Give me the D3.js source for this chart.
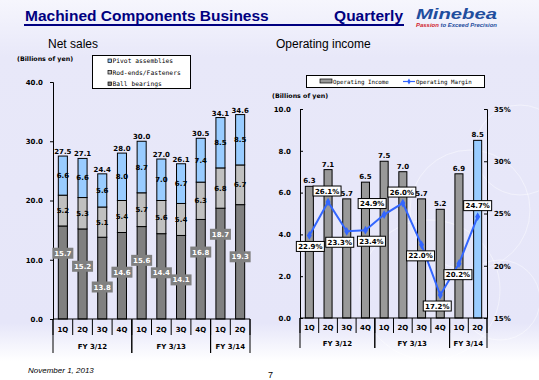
<!DOCTYPE html>
<html>
<head>
<meta charset="utf-8">
<script src="https://cdn.jsdelivr.net/npm/d3@7"></script>
<style>
body { margin: 0; }
svg { display: block; }
</style>
</head>
<body>
<svg></svg>
<script>
// quarter labels and fiscal year groups
var quarters = ["1Q", "2Q", "3Q", "4Q", "1Q", "2Q", "3Q", "4Q", "1Q", "2Q"];
var fiscalYears = ["FY 3/12", "FY 3/13", "FY 3/14"];
var fyQuarters = [4, 4, 2];
// net sales by product (billions of yen)
var ballBearings = [15.7, 15.2, 13.8, 14.6, 15.6, 14.4, 14.1, 16.8, 18.7, 19.3];
var rodEnds = [5.2, 5.3, 5.1, 5.4, 5.7, 5.6, 5.4, 6.3, 6.8, 6.7];
var pivots = [6.6, 6.6, 5.6, 8.0, 8.7, 7.0, 6.7, 7.4, 8.5, 8.5];
var netTotal = [27.5, 27.1, 24.4, 28.0, 30.0, 27.0, 26.1, 30.5, 34.1, 34.6];
// operating income and margin
var opIncome = [6.3, 7.1, 5.7, 6.5, 7.5, 7.0, 5.7, 5.2, 6.9, 8.5];
var opMargin = [22.9, 26.1, 23.3, 23.4, 24.9, 26.0, 22.0, 17.2, 20.2, 24.7];
// tick values
var salesTicks = [0, 10, 20, 30, 40];
var incomeTicks = [0, 2, 4, 6, 8, 10];
var marginTicks = [15, 20, 25, 30, 35];

// label placement (where the labels were dragged to in the original)
var bbLabelAt = [11.1, 8.9, 5.4, 7.9, 9.9, 7.8, 6.6, 11.3, 14.3, 10.5];
var marginLabelSide = [1, -1, 1, 1, -1, -1, 1, 1, 1, -1];
var marginLabelDx = [1, -1, -7, 6, -12, -1, -1, -3, -1, 0];

var width = 539, height = 380;
var svg = d3.select("svg").attr("width", width).attr("height", height);

// background
var defs = svg.append("defs");
var grad = defs.append("linearGradient").attr("id", "bg").attr("x1", 0).attr("y1", 0).attr("x2", 0).attr("y2", 1);
grad.append("stop").attr("offset", "0%").attr("stop-color", "#f6f6fd");
grad.append("stop").attr("offset", "15%").attr("stop-color", "#e8e8f9");
grad.append("stop").attr("offset", "85%").attr("stop-color", "#e6e6f9");
grad.append("stop").attr("offset", "95%").attr("stop-color", "#ffffff");
grad.append("stop").attr("offset", "100%").attr("stop-color", "#ffffff");
svg.append("rect").attr("width", width).attr("height", height).attr("fill", "url(#bg)");
// faint swirl circles on the right
[[470, 210, 60], [520, 150, 45], [430, 290, 70], [500, 300, 40]].forEach(function (c) {
  svg.append("circle").attr("cx", c[0]).attr("cy", c[1]).attr("r", c[2])
    .attr("fill", "none").attr("stroke", "#ffffff").attr("stroke-opacity", 0.45).attr("stroke-width", 1);
});

// header
svg.append("text").attr("x", 25).attr("y", 21)
  .attr("font-family", "Liberation Sans, Arial").attr("font-weight", "bold").attr("font-size", 15.5)
  .attr("fill", "#000080").text("Machined Components Business");
svg.append("text").attr("x", 403).attr("y", 21).attr("text-anchor", "end")
  .attr("font-family", "Liberation Sans, Arial").attr("font-weight", "bold").attr("font-size", 15.5)
  .attr("fill", "#000080").text("Quarterly");
svg.append("rect").attr("x", 24).attr("y", 24).attr("width", 380).attr("height", 2).attr("fill", "#000080");
svg.append("text").attr("x", 416).attr("y", 19)
  .attr("font-family", "Liberation Sans, Arial").attr("font-weight", "bold").attr("font-style", "italic")
  .attr("font-size", 14).attr("fill", "#1f4e9e")
  .attr("textLength", 81).attr("lengthAdjust", "spacingAndGlyphs").text("Minebea");
var tag = svg.append("text").attr("x", 416).attr("y", 27)
  .attr("font-family", "Liberation Sans, Arial").attr("font-weight", "bold").attr("font-style", "italic")
  .attr("font-size", 5.5).attr("textLength", 81).attr("lengthAdjust", "spacingAndGlyphs");
tag.append("tspan").attr("fill", "#d0202a").text("Passion");
tag.append("tspan").attr("fill", "#1f4e9e").text(" to Exceed Precision");

// footer
svg.append("text").attr("x", 28).attr("y", 373)
  .attr("font-family", "Liberation Sans, Arial").attr("font-style", "italic").attr("font-size", 8)
  .text("November 1, 2013");
svg.append("text").attr("x", 268).attr("y", 378)
  .attr("font-family", "Liberation Sans, Arial").attr("font-size", 9).text("7");

var tickFont = "DejaVu Sans, Verdana";
var fs = 7;

// draws the two-level category axis under a chart
function categoryAxis(g, x, y0, qY, fyY, lineEnd, qLineEnd) {
  var step = x.step();
  var left = x.range()[0];
  g.append("line").attr("x1", left).attr("x2", x.range()[1]).attr("y1", y0).attr("y2", y0)
    .attr("stroke", "#000");
  // separators between quarters
  for (var i = 0; i <= quarters.length; i++) {
    g.append("line").attr("x1", left + i * step).attr("x2", left + i * step)
      .attr("y1", y0).attr("y2", qLineEnd).attr("stroke", "#000");
  }
  g.selectAll(".q").data(quarters).enter().append("text")
    .attr("x", (d, i) => x(i) + x.bandwidth() / 2).attr("y", qY)
    .attr("text-anchor", "middle").attr("font-family", tickFont).attr("font-weight", "bold")
    .attr("font-size", fs).text(d => d);
  var start = 0;
  fiscalYears.forEach(function (fy, k) {
    var x0 = left + start * step;
    var x1 = left + (start + fyQuarters[k]) * step;
    g.append("line").attr("x1", x0).attr("x2", x0).attr("y1", y0).attr("y2", lineEnd).attr("stroke", "#000");
    g.append("line").attr("x1", x1).attr("x2", x1).attr("y1", y0).attr("y2", lineEnd).attr("stroke", "#000");
    g.append("text").attr("x", (x0 + x1) / 2).attr("y", fyY).attr("text-anchor", "middle")
      .attr("font-family", tickFont).attr("font-weight", "bold").attr("font-size", fs).text(fy);
    start += fyQuarters[k];
  });
}

// ---------------- Net sales ----------------
var left = svg.append("g");
left.append("text").attr("x", 48).attr("y", 48)
  .attr("font-family", "Liberation Sans, Arial").attr("font-size", 12).text("Net sales");
left.append("text").attr("x", 17).attr("y", 61)
  .attr("font-family", tickFont).attr("font-weight", "bold").attr("font-size", 6.3).text("(Billions of yen)");

var xS = d3.scaleBand().domain(d3.range(quarters.length)).range([53, 250]).paddingInner(0.54).paddingOuter(0.27);
var yS = d3.scaleLinear().domain([0, 40]).range([319, 82]);

var colS = { bb: "#808080", rod: "#c0c0c0", piv: "#99ccff" };

left.append("g").attr("transform", "translate(53,0)")
  .call(d3.axisLeft(yS).tickValues(salesTicks).tickFormat(d3.format(".1f")).tickSize(3).tickPadding(7))
  .call(g => g.select(".domain").attr("stroke", "#000"))
  .call(g => g.selectAll("text").attr("font-family", tickFont).attr("font-weight", "bold").attr("font-size", fs));

var stacks = quarters.map(function (q, i) {
  return [
    { key: "bb", y0: 0, y1: ballBearings[i], v: ballBearings[i] },
    { key: "rod", y0: ballBearings[i], y1: ballBearings[i] + rodEnds[i], v: rodEnds[i] },
    { key: "piv", y0: ballBearings[i] + rodEnds[i], y1: ballBearings[i] + rodEnds[i] + pivots[i], v: pivots[i] }
  ];
});

var cols = left.selectAll(".col").data(stacks).enter().append("g")
  .attr("transform", (d, i) => "translate(" + xS(i) + ",0)");
cols.selectAll("rect").data(d => d).enter().append("rect")
  .attr("x", 0).attr("width", xS.bandwidth())
  .attr("y", d => yS(d.y1)).attr("height", d => yS(d.y0) - yS(d.y1))
  .attr("fill", d => colS[d.key]).attr("stroke", "#000").attr("stroke-width", 1);

// rod-ends and pivot labels
cols.selectAll(".lab").data(d => d.slice(1)).enter().append("text")
  .attr("x", xS.bandwidth() / 2).attr("y", d => yS((d.y0 + d.y1) / 2) + 2.5)
  .attr("text-anchor", "middle").attr("font-family", tickFont).attr("font-weight", "bold")
  .attr("font-size", fs).attr("fill", "#000").text(d => d.v.toFixed(1));

categoryAxis(left, xS, 319, 332, 349, 353, 335);

// total labels
left.selectAll(".tot").data(netTotal).enter().append("text")
  .attr("x", (d, i) => xS(i) + xS.bandwidth() / 2)
  .attr("y", (d, i) => yS(stacks[i][2].y1) - 2)
  .attr("text-anchor", "middle").attr("font-family", tickFont).attr("font-weight", "bold")
  .attr("font-size", fs).text(d => d.toFixed(1));

// ball bearing labels in grey boxes
var bbLab = left.selectAll(".bbl").data(ballBearings).enter().append("g")
  .attr("transform", (d, i) => "translate(" + (xS(i) + xS.bandwidth() / 2) + "," + yS(bbLabelAt[i]) + ")");
bbLab.append("rect").attr("x", -10.5).attr("y", -5.5).attr("width", 21).attr("height", 11).attr("fill", "#808080");
bbLab.append("text").attr("y", 2.5).attr("text-anchor", "middle").attr("font-family", tickFont)
  .attr("font-weight", "bold").attr("font-size", fs).attr("fill", "#fff").text(d => d.toFixed(1));

// legend
var legS = left.append("g");
legS.append("rect").attr("x", 92.5).attr("y", 55.5).attr("width", 98).attr("height", 33)
  .attr("fill", "#fff").attr("stroke", "#000");
[["Pivot assemblies", "piv"], ["Rod-ends/Fasteners", "rod"], ["Ball bearings", "bb"]].forEach(function (e, k) {
  var yy = 61 + k * 11.5;
  legS.append("rect").attr("x", 108).attr("y", yy - 2).attr("width", 3.5).attr("height", 3.5)
    .attr("fill", colS[e[1]]).attr("stroke", "#000").attr("stroke-width", 0.7);
  legS.append("text").attr("x", 112.5).attr("y", yy + 2).attr("font-family", "DejaVu Sans Mono")
    .attr("font-size", 6.3).text(e[0]);
});

// ---------------- Operating income ----------------
var right = svg.append("g");
right.append("text").attr("x", 276).attr("y", 48)
  .attr("font-family", "Liberation Sans, Arial").attr("font-size", 12).text("Operating income");
right.append("text").attr("x", 272).attr("y", 98)
  .attr("font-family", tickFont).attr("font-weight", "bold").attr("font-size", 6.3).text("(Billions of yen)");

var xI = d3.scaleBand().domain(d3.range(quarters.length)).range([300, 487]).paddingInner(0.57).paddingOuter(0.285);
var yI = d3.scaleLinear().domain([0, 10]).range([318, 109]);
var yM = d3.scaleLinear().domain([15, 35]).range([318, 109]);

right.append("g").attr("transform", "translate(300,0)")
  .call(d3.axisLeft(yI).tickValues(incomeTicks).tickFormat(d3.format(".1f")).tickSize(-3).tickPadding(9))
  .call(g => g.select(".domain").attr("stroke", "#000"))
  .call(g => g.selectAll("text").attr("font-family", tickFont).attr("font-weight", "bold").attr("font-size", fs));
right.append("g").attr("transform", "translate(487,0)")
  .call(d3.axisRight(yM).tickValues(marginTicks).tickFormat(d => d + "%").tickSize(-3).tickPadding(7))
  .call(g => g.select(".domain").attr("stroke", "#000"))
  .call(g => g.selectAll("text").attr("font-family", tickFont).attr("font-weight", "bold").attr("font-size", fs));

right.selectAll(".bar").data(opIncome).enter().append("rect")
  .attr("x", (d, i) => xI(i)).attr("width", xI.bandwidth())
  .attr("y", d => yI(d)).attr("height", d => yI(0) - yI(d))
  .attr("fill", (d, i) => i === opIncome.length - 1 ? "#99ccff" : "#999999")
  .attr("stroke", "#000");
right.selectAll(".vl").data(opIncome).enter().append("text")
  .attr("x", (d, i) => xI(i) + xI.bandwidth() / 2).attr("y", d => yI(d) - 3)
  .attr("text-anchor", "middle").attr("font-family", tickFont).attr("font-weight", "bold")
  .attr("font-size", fs).text(d => d.toFixed(1));

categoryAxis(right, xI, 318, 330, 346, 348, 333);

// margin line
var cx = i => xI(i) + xI.bandwidth() / 2;
right.append("path").datum(opMargin)
  .attr("d", d3.line().x((d, i) => cx(i)).y(d => yM(d)))
  .attr("fill", "none").attr("stroke", "#3366ff").attr("stroke-width", 2);
right.selectAll(".mk").data(opMargin).enter().append("path")
  .attr("d", d3.symbol(d3.symbolDiamond, 22))
  .attr("transform", (d, i) => "translate(" + cx(i) + "," + yM(d) + ")")
  .attr("fill", "#3366ff");

var mLab = right.selectAll(".ml").data(opMargin).enter().append("g")
  .attr("transform", (d, i) => "translate(" + (cx(i) + marginLabelDx[i]) + "," + (yM(d) + marginLabelSide[i] * 11) + ")");
mLab.append("rect").attr("x", -14).attr("y", -5).attr("width", 28).attr("height", 10)
  .attr("fill", "#fff").attr("stroke", "#000");
mLab.append("text").attr("y", 2.5).attr("text-anchor", "middle").attr("font-family", tickFont)
  .attr("font-weight", "bold").attr("font-size", fs).text(d => d.toFixed(1) + "%");

// legend
var legI = right.append("g");
legI.append("rect").attr("x", 306.5).attr("y", 75.5).attr("width", 178).attr("height", 12)
  .attr("fill", "#fff").attr("stroke", "#000");
legI.append("rect").attr("x", 320).attr("y", 79).attr("width", 12).attr("height", 4)
  .attr("fill", "#999999").attr("stroke", "#000").attr("stroke-width", 0.7);
legI.append("text").attr("x", 333).attr("y", 83.5).attr("font-family", "DejaVu Sans Mono")
  .attr("font-size", 5.8).text("Operating Income");
legI.append("line").attr("x1", 403).attr("x2", 415).attr("y1", 81.5).attr("y2", 81.5)
  .attr("stroke", "#3366ff").attr("stroke-width", 1.2);
legI.append("path").attr("d", d3.symbol(d3.symbolDiamond, 10)).attr("transform", "translate(409,81.5)")
  .attr("fill", "#3366ff");
legI.append("text").attr("x", 416).attr("y", 83.5).attr("font-family", "DejaVu Sans Mono")
  .attr("font-size", 5.8).text("Operating Margin");
</script>
</body>
</html>
